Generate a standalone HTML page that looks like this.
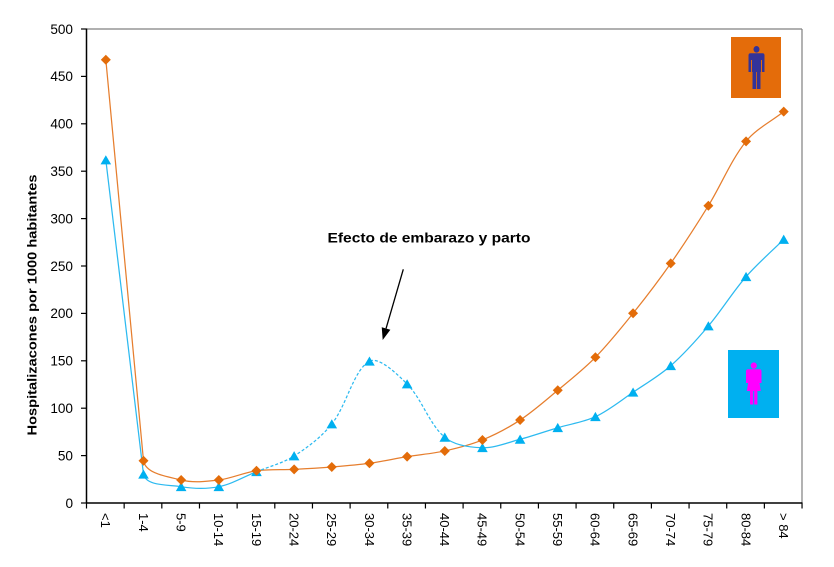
<!DOCTYPE html>
<html><head><meta charset="utf-8"><style>
html,body{margin:0;padding:0;background:#fff;}
svg{display:block;}
text{font-family:"Liberation Sans",Arial,sans-serif;fill:#000;}
</style></head><body>
<svg id="s" width="834" height="567" viewBox="0 0 834 567" xmlns="http://www.w3.org/2000/svg">
<defs>
<path id="dm" d="M0,-5 L5,0 L0,5 L-5,0Z" fill="#E36C09"/>
<path id="tr" d="M0,-4.8 L5.3,4.4 L-5.3,4.4Z" fill="#00B0F0"/>
</defs>
<rect width="834" height="567" fill="#fff"/>
<line x1="86.5" y1="29" x2="802" y2="29" stroke="#808080" stroke-width="1.2"/>
<line x1="802" y1="29" x2="802" y2="503" stroke="#808080" stroke-width="1.2"/>
<line x1="86.5" y1="28.5" x2="86.5" y2="503.5" stroke="#000" stroke-width="1.5"/>
<line x1="86" y1="503" x2="802.5" y2="503" stroke="#000" stroke-width="1.5"/>
<g stroke="#000" stroke-width="1.2">
<line x1="81" y1="503" x2="86.5" y2="503"/>
<line x1="81" y1="455.6" x2="86.5" y2="455.6"/>
<line x1="81" y1="408.2" x2="86.5" y2="408.2"/>
<line x1="81" y1="360.8" x2="86.5" y2="360.8"/>
<line x1="81" y1="313.4" x2="86.5" y2="313.4"/>
<line x1="81" y1="266" x2="86.5" y2="266"/>
<line x1="81" y1="218.6" x2="86.5" y2="218.6"/>
<line x1="81" y1="171.2" x2="86.5" y2="171.2"/>
<line x1="81" y1="123.8" x2="86.5" y2="123.8"/>
<line x1="81" y1="76.4" x2="86.5" y2="76.4"/>
<line x1="81" y1="29" x2="86.5" y2="29"/>
</g>
<g font-size="13.6" text-anchor="end">
<text x="73" y="507.8">0</text>
<text x="73" y="460.4">50</text>
<text x="73" y="413">100</text>
<text x="73" y="365.6">150</text>
<text x="73" y="318.2">200</text>
<text x="73" y="270.8">250</text>
<text x="73" y="223.4">300</text>
<text x="73" y="176">350</text>
<text x="73" y="128.6">400</text>
<text x="73" y="81.2">450</text>
<text x="73" y="33.8">500</text>
</g>
<g stroke="#000" stroke-width="1.2" id="xt"></g>
<g id="xl" font-size="13"></g>
<text transform="translate(32,305) rotate(-90)" dy="0.35em" text-anchor="middle" font-size="13" font-weight="bold" textLength="261" lengthAdjust="spacingAndGlyphs">Hospitalizacones por 1000 habitantes</text>
<text x="327.5" y="242.5" font-size="13.5" font-weight="bold" textLength="203" lengthAdjust="spacingAndGlyphs">Efecto de embarazo y parto</text>
<line x1="403.3" y1="269.3" x2="386.06" y2="328.48" stroke="#000" stroke-width="1.3"/>
<path d="M382.7,340 L390.38,329.74 L381.74,327.22Z" fill="#000"/>
<rect x="731" y="37" width="50" height="61" fill="#E46C0A"/>
<g fill="#333399">
<ellipse cx="756.5" cy="49.3" rx="3" ry="3.3"/>
<path d="M750.5,53.3 L762.5,53.3 Q764.5,53.3 764.5,55.5 L764.5,72 L762,72 L762,60 L761,60 L761,72 L752,72 L752,60 L751,60 L751,72 L748.5,72 L748.5,55.5 Q748.5,53.3 750.5,53.3Z"/>
<rect x="752.5" y="71" width="3.6" height="18"/>
<rect x="756.9" y="71" width="3.6" height="18"/>
</g>
<rect x="728" y="350" width="51" height="68" fill="#00B0F0"/>
<g fill="#FF00FF">
<ellipse cx="753.8" cy="365.6" rx="3.1" ry="3.2"/>
<path d="M748,369.2 L759.6,369.2 Q761.5,369.2 761.5,371.5 L761.5,383 L759.5,383 L760.8,391 L746.8,391 L748.1,383 L746,383 L746,371.5 Q746,369.2 748,369.2Z"/>
<rect x="750" y="390" width="3.2" height="14.5"/>
<rect x="754.2" y="390" width="3.2" height="14.5"/>
</g>
<path id="lm" fill="none" stroke="#E67E2E" stroke-width="1.25" d="M105.83,59.72 L143.49,460.72 L181.15,480 L218.81,480 L256.47,470.77 L294.13,469.35 L331.79,466.98 L369.45,463.28 L407.11,456.64 L444.77,450.95 L482.43,439.96 L520.09,420.05 L557.75,390.28 L595.41,357.29 L633.07,313.3 L670.73,263.35 L708.39,205.71 L746.05,141.34 L783.71,111.67"/>
<path id="lw1" fill="none" stroke="#2DBAF0" stroke-width="1.25" d="M105.83,160 L143.49,474.28 L181.15,486.69 L218.81,486.69 L256.47,471.72"/>
<path id="lw2" fill="none" stroke="#2DBAF0" stroke-width="1.25" stroke-dasharray="3,2" d="M256.47,471.72 L294.13,455.98 L331.79,424.03 L369.45,361.27 L407.11,384.03 L444.77,437.3"/>
<path id="lw3" fill="none" stroke="#2DBAF0" stroke-width="1.25" d="M444.77,437.3 L482.43,447.73 L520.09,439.29 L557.75,427.73 L595.41,416.73 L633.07,392.27 L670.73,365.73 L708.39,326.01 L746.05,276.71 L783.71,239.46"/>
<g>
<use href="#tr" x="105.83" y="160"/>
<use href="#tr" x="143.49" y="474.28"/>
<use href="#tr" x="181.15" y="486.69"/>
<use href="#tr" x="218.81" y="486.69"/>
<use href="#tr" x="256.47" y="471.72"/>
<use href="#tr" x="294.13" y="455.98"/>
<use href="#tr" x="331.79" y="424.03"/>
<use href="#tr" x="369.45" y="361.27"/>
<use href="#tr" x="407.11" y="384.03"/>
<use href="#tr" x="444.77" y="437.3"/>
<use href="#tr" x="482.43" y="447.73"/>
<use href="#tr" x="520.09" y="439.29"/>
<use href="#tr" x="557.75" y="427.73"/>
<use href="#tr" x="595.41" y="416.73"/>
<use href="#tr" x="633.07" y="392.27"/>
<use href="#tr" x="670.73" y="365.73"/>
<use href="#tr" x="708.39" y="326.01"/>
<use href="#tr" x="746.05" y="276.71"/>
<use href="#tr" x="783.71" y="239.46"/>
</g>
<g>
<use href="#dm" x="105.83" y="59.72"/>
<use href="#dm" x="143.49" y="460.72"/>
<use href="#dm" x="181.15" y="480"/>
<use href="#dm" x="218.81" y="480"/>
<use href="#dm" x="256.47" y="470.77"/>
<use href="#dm" x="294.13" y="469.35"/>
<use href="#dm" x="331.79" y="466.98"/>
<use href="#dm" x="369.45" y="463.28"/>
<use href="#dm" x="407.11" y="456.64"/>
<use href="#dm" x="444.77" y="450.95"/>
<use href="#dm" x="482.43" y="439.96"/>
<use href="#dm" x="520.09" y="420.05"/>
<use href="#dm" x="557.75" y="390.28"/>
<use href="#dm" x="595.41" y="357.29"/>
<use href="#dm" x="633.07" y="313.3"/>
<use href="#dm" x="670.73" y="263.35"/>
<use href="#dm" x="708.39" y="205.71"/>
<use href="#dm" x="746.05" y="141.34"/>
<use href="#dm" x="783.71" y="111.67"/>
</g>
</svg>
<script>
(function(){
var NS="http://www.w3.org/2000/svg";
var labels=["<1","1-4","5-9","10-14","15-19","20-24","25-29","30-34","35-39","40-44","45-49","50-54","55-59","60-64","65-69","70-74","75-79","80-84","> 84"];
var xt=document.getElementById("xt"), xl=document.getElementById("xl");
for(var k=0;k<=19;k++){
  var x=86.5+37.66*k;
  var l=document.createElementNS(NS,"line");
  l.setAttribute("x1",x);l.setAttribute("x2",x);l.setAttribute("y1",503);l.setAttribute("y2",508.5);
  xt.appendChild(l);
}
for(var i=0;i<19;i++){
  var cx=87+37.66*(i+0.5);
  var t=document.createElementNS(NS,"text");
  t.setAttribute("transform","translate("+cx+",513) rotate(90)");
  t.setAttribute("dy","0.36em");
  t.textContent=labels[i];
  xl.appendChild(t);
}
function X(i){return 87+37.66*(i+0.5);}
var m=[59.72,460.72,480,480,470.77,469.35,466.98,463.28,456.64,450.95,439.96,420.05,390.28,357.29,313.3,263.35,205.71,141.34,111.67];
var w=[160,474.28,486.69,486.69,471.72,455.98,424.03,361.27,384.03,437.3,447.73,439.29,427.73,416.73,392.27,365.73,326.01,276.71,239.46];
function pts(a){return a.map(function(y,i){return [X(i),y];});}
function d(a,b){return Math.hypot(b[0]-a[0],b[1]-a[1]);}
function path(p,from,to){
  var s="M"+p[from][0].toFixed(2)+","+p[from][1].toFixed(2);
  for(var i=from;i<to;i++){
    var P0=p[i-1],P1=p[i],P2=p[i+1],P3=p[i+2];
    var L=d(P1,P2),c1,c2;
    if(i===0){
      s+=" L"+P2[0].toFixed(2)+","+P2[1].toFixed(2);
      continue;
    }
    if(P0){var f=L/(d(P0,P1)+L)/3;c1=[P1[0]+(P2[0]-P0[0])*f,P1[1]+(P2[1]-P0[1])*f];}
    else c1=[P1[0]+(P2[0]-P1[0])/3,P1[1]+(P2[1]-P1[1])/3];
    if(P3){var g=L/(L+d(P2,P3))/3;c2=[P2[0]-(P3[0]-P1[0])*g,P2[1]-(P3[1]-P1[1])*g];}
    else c2=[P2[0]-(P2[0]-P1[0])/3,P2[1]-(P2[1]-P1[1])/3];
    s+=" C"+c1[0].toFixed(2)+","+c1[1].toFixed(2)+" "+c2[0].toFixed(2)+","+c2[1].toFixed(2)+" "+P2[0].toFixed(2)+","+P2[1].toFixed(2);
  }
  return s;
}
var pm=pts(m),pw=pts(w);
document.getElementById("lm").setAttribute("d",path(pm,0,18));
document.getElementById("lw1").setAttribute("d",path(pw,0,4));
document.getElementById("lw2").setAttribute("d",path(pw,4,9));
document.getElementById("lw3").setAttribute("d",path(pw,9,18));
})();
</script>
</body></html>
